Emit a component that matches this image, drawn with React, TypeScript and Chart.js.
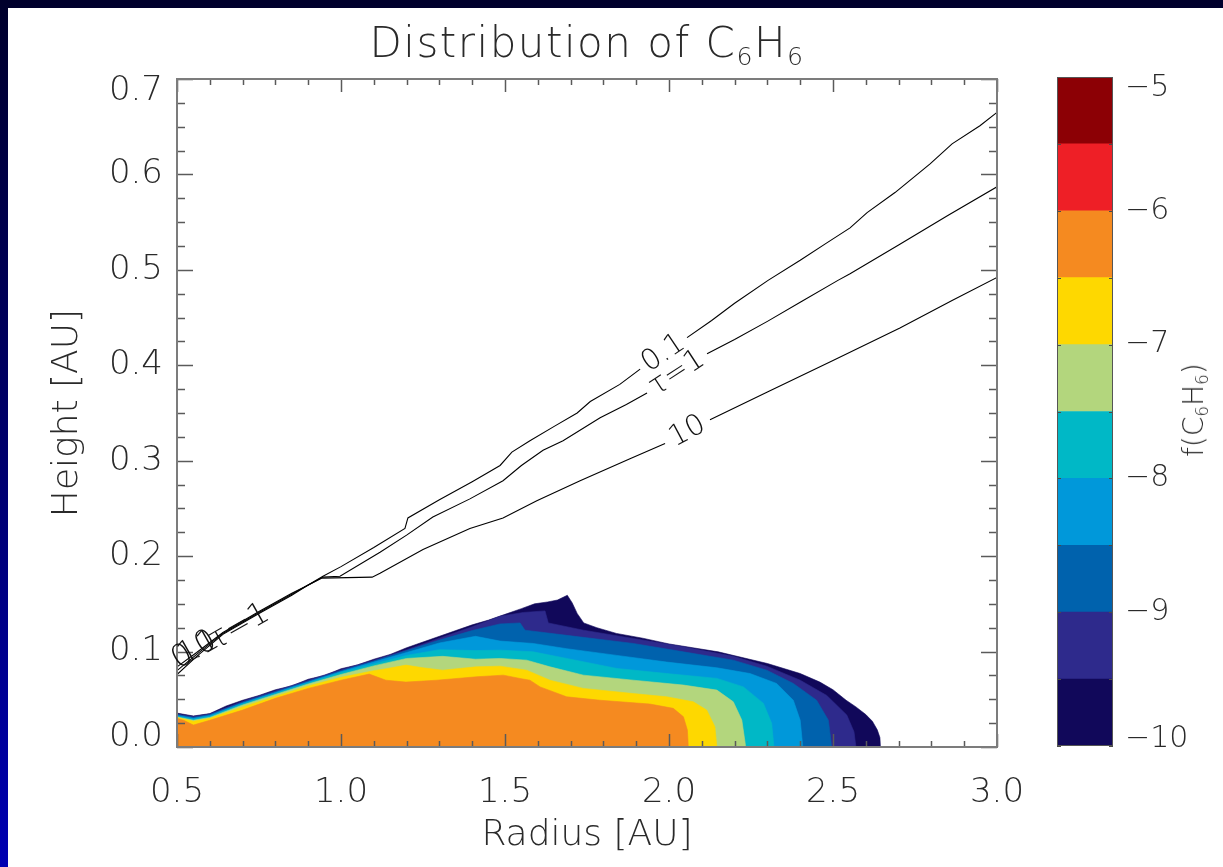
import React, { useEffect, useRef } from "react";
import { Chart, registerables } from "chart.js";

Chart.register(...registerables);

// ---------- text ----------
const FONT = "'DejaVu Sans', 'Liberation Sans', sans-serif";
const TEXT = "#2a2a2a";
const TITLE_MAIN = "Distribution of ";
const SPECIES = [["C", "6"], ["H", "6"]];
const X_TITLE = "Radius [AU]";
const Y_TITLE = "Height [AU]";

// ---------- ticks ----------
const X_TICKS = [0.5, 1.0, 1.5, 2.0, 2.5, 3.0];
const X_TICK_LABELS = ["0.5", "1.0", "1.5", "2.0", "2.5", "3.0"];
const Y_TICKS = [0, 0.1, 0.2, 0.3, 0.4, 0.5, 0.6, 0.7];
const Y_TICK_LABELS = ["0.0", "0.1", "0.2", "0.3", "0.4", "0.5", "0.6", "0.7"];
const CB_TICKS = [-10, -9, -8, -7, -6, -5];
const CB_TICK_LABELS = ["−10", "−9", "−8", "−7", "−6", "−5"];

// ---------- colour levels ----------
const LEVELS = [-10, -9.5, -9, -8.5, -8, -7.5, -7, -6.5, -6, -5.5, -5];
const LEVEL_COLORS = [
  "#11085a", "#2e2a8c", "#0062ad", "#0098da", "#00b8c6",
  "#b3d67d", "#fed800", "#f58a20", "#ee1f26", "#8c0005",
];

// ---------- filled contour boundaries (upper edge of region f > level) ----------
const BAND_X_M10 = [0.5, 0.55, 0.6, 0.65, 0.7, 0.75, 0.8, 0.85, 0.9, 0.95, 1.0, 1.05, 1.1, 1.15, 1.2, 1.25, 1.3, 1.35, 1.4, 1.45, 1.5, 1.55, 1.59, 1.63, 1.66, 1.69, 1.705, 1.72, 1.74, 1.78, 1.84, 1.92, 2.0, 2.15, 2.3, 2.4, 2.46, 2.5, 2.54, 2.57, 2.6, 2.62, 2.635, 2.643, 2.645];
const BAND_Y_M10 = [0.0355, 0.0325, 0.035, 0.043, 0.049, 0.054, 0.060, 0.064, 0.071, 0.075, 0.082, 0.086, 0.092, 0.097, 0.104, 0.110, 0.116, 0.122, 0.128, 0.133, 0.139, 0.145, 0.150, 0.152, 0.154, 0.159, 0.151, 0.140, 0.130, 0.125, 0.119, 0.114, 0.108, 0.0997, 0.0875, 0.077, 0.068, 0.060, 0.049, 0.042, 0.034, 0.027, 0.018, 0.010, 0];

const BAND_X_M95 = [0.5, 0.55, 0.6, 0.7, 0.8, 0.9, 1.0, 1.1, 1.2, 1.3, 1.4, 1.485, 1.556, 1.622, 1.632, 1.739, 1.891, 2.044, 2.196, 2.298, 2.40, 2.481, 2.542, 2.564, 2.570];
const BAND_Y_M95 = [0.0345, 0.032, 0.0345, 0.048, 0.059, 0.070, 0.081, 0.091, 0.102, 0.114, 0.126, 0.137, 0.141, 0.1426, 0.130, 0.1224, 0.1137, 0.105, 0.095, 0.0847, 0.070, 0.054, 0.0335, 0.016, 0];

const BAND_X_M9 = [0.5, 0.55, 0.6, 0.7, 0.8, 0.9, 1.0, 1.1, 1.2, 1.3, 1.4, 1.485, 1.546, 1.561, 1.688, 1.891, 2.044, 2.196, 2.298, 2.379, 2.45, 2.486, 2.496];
const BAND_Y_M9 = [0.034, 0.031, 0.034, 0.047, 0.058, 0.069, 0.080, 0.090, 0.101, 0.112, 0.122, 0.129, 0.130, 0.1224, 0.117, 0.1085, 0.0997, 0.091, 0.0805, 0.0666, 0.049, 0.028, 0];

const BAND_X_M85 = [0.5, 0.55, 0.6, 0.7, 0.8, 0.9, 1.0, 1.1, 1.2, 1.3, 1.41, 1.485, 1.586, 1.688, 1.841, 1.993, 2.146, 2.247, 2.328, 2.379, 2.40, 2.408];
const BAND_Y_M85 = [0.033, 0.030, 0.033, 0.046, 0.057, 0.068, 0.079, 0.089, 0.099, 0.109, 0.116, 0.111, 0.1085, 0.103, 0.096, 0.089, 0.083, 0.077, 0.0666, 0.049, 0.028, 0];

const BAND_X_M8 = [0.5, 0.55, 0.6, 0.7, 0.8, 0.9, 1.0, 1.1, 1.2, 1.3, 1.41, 1.485, 1.586, 1.688, 1.841, 1.993, 2.146, 2.227, 2.288, 2.313, 2.320];
const BAND_Y_M8 = [0.032, 0.029, 0.032, 0.045, 0.056, 0.067, 0.078, 0.087, 0.096, 0.102, 0.101, 0.1015, 0.0997, 0.0928, 0.0823, 0.077, 0.0719, 0.063, 0.0457, 0.0248, 0];

const BAND_X_M75 = [0.5, 0.55, 0.6, 0.7, 0.8, 0.9, 1.0, 1.1, 1.2, 1.31, 1.41, 1.485, 1.566, 1.637, 1.739, 1.891, 2.044, 2.146, 2.196, 2.222, 2.234];
const BAND_Y_M75 = [0.0315, 0.028, 0.031, 0.044, 0.055, 0.066, 0.076, 0.085, 0.0928, 0.095, 0.092, 0.0928, 0.091, 0.084, 0.0753, 0.070, 0.0649, 0.0596, 0.0474, 0.0282, 0];

const BAND_X_M7 = [0.5, 0.55, 0.6, 0.7, 0.8, 0.9, 1.0, 1.1, 1.137, 1.198, 1.25, 1.31, 1.411, 1.485, 1.566, 1.637, 1.739, 1.891, 1.993, 2.074, 2.115, 2.140, 2.146];
const BAND_Y_M7 = [0.031, 0.027, 0.030, 0.042, 0.053, 0.064, 0.073, 0.080, 0.082, 0.0858, 0.083, 0.0805, 0.084, 0.0847, 0.0805, 0.070, 0.0614, 0.056, 0.0526, 0.0474, 0.0387, 0.0212, 0];

const BAND_X_M65 = [0.5, 0.52, 0.55, 0.6, 0.7, 0.8, 0.9, 1.0, 1.086, 1.137, 1.198, 1.292, 1.414, 1.495, 1.546, 1.576, 1.607, 1.688, 1.79, 1.942, 2.013, 2.044, 2.056, 2.059];
const BAND_Y_M65 = [0.030, 0.028, 0.023, 0.028, 0.0387, 0.051, 0.0614, 0.070, 0.0764, 0.070, 0.068, 0.070, 0.0736, 0.0753, 0.0718, 0.070, 0.063, 0.0526, 0.049, 0.045, 0.0405, 0.0317, 0.0178, 0];

// ---------- optical depth contour lines (null = label gap) ----------
const TAU01_X = [0.5, 0.56, 0.64, 0.75, 0.85, 0.896, 0.945, 1.0, 1.1, 1.195, 1.204, 1.3, 1.4, 1.485, 1.521, 1.576, 1.65, 1.72, 1.76, 1.85, 1.912, 1.98, 2.055, 2.13, 2.2, 2.302, 2.40, 2.48, 2.552, 2.604, 2.689, 2.796, 2.863, 2.948, 3.0];
const TAU01_Y = [0.084, 0.099, 0.120, 0.142, 0.161, 0.169, 0.179, 0.189, 0.209, 0.229, 0.240, 0.259, 0.278, 0.295, 0.309, 0.321, 0.336, 0.350, 0.362, 0.380, 0.396, null, 0.429, 0.447, 0.465, 0.489, 0.510, 0.528, 0.544, 0.560, 0.581, 0.611, 0.632, 0.651, 0.665];

const TAU1_X = [0.5, 0.56, 0.64, 0.75, 0.85, 0.896, 0.945, 0.997, 1.119, 1.20, 1.28, 1.393, 1.494, 1.55, 1.616, 1.677, 1.79, 1.87, 1.933, 2.02, 2.116, 2.2, 2.3, 2.4, 2.515, 2.552, 2.7, 2.85, 3.0];
const TAU1_Y = [0.080, 0.097, 0.119, 0.141, 0.160, 0.169, 0.178, 0.179, 0.204, 0.222, 0.241, 0.260, 0.279, 0.295, 0.311, 0.321, 0.345, 0.359, 0.371, null, 0.412, 0.427, 0.446, 0.466, 0.489, 0.496, 0.526, 0.557, 0.587];

const TAU10_X = [0.5, 0.56, 0.64, 0.75, 0.85, 0.896, 0.942, 1.095, 1.119, 1.25, 1.393, 1.494, 1.597, 1.729, 1.881, 1.988, 2.06, 2.125, 2.3, 2.5, 2.704, 2.863, 3.0];
const TAU10_Y = [0.076, 0.095, 0.118, 0.140, 0.159, 0.169, 0.177, 0.178, 0.182, 0.207, 0.229, 0.240, 0.258, 0.279, 0.302, 0.318, null, 0.343, 0.372, 0.405, 0.439, 0.468, 0.492];

const LINE_LABELS = ["0.1", "τ=1", "10"];
// labels bunched where the contours meet the left edge
const LEFT_LABEL_TEXT = ["0.1", "10", "τ=1"];
const LEFT_LABEL_X = [0.556, 0.562, 0.69];
const LEFT_LABEL_Y = [0.1015, 0.1035, 0.1255];

// ---------- helpers ----------
const zip = (xs: number[], ys: (number | null)[]) => xs.map((x, i) => ({ x, y: ys[i] }));

const shiftedItems = new WeakSet<object>();
const endLabelShift = (id: string, scaleId: string, firstDy: number, lastDy: number) => ({
  id,
  beforeDraw(chart: any) {
    const s: any = chart.scales[scaleId];
    if (!s || typeof s.getLabelItems !== "function") return;
    const items = s.getLabelItems(chart.chartArea);
    if (!items || !items.length || shiftedItems.has(items)) return;
    shiftedItems.add(items);
    items[0].options.translation[1] += firstDy;
    items[items.length - 1].options.translation[1] += lastDy;
  },
});

const noScalePadding = (s: any) => {
  s.paddingLeft = 0;
  s.paddingRight = 0;
  s.paddingTop = 0;
  s.paddingBottom = 0;
};

const frameTicksPlugin = {
  id: "frameTicks",
  afterDatasetsDraw(chart: any) {
    const { ctx, chartArea: a } = chart;
    const xs = chart.scales.x;
    const ys = chart.scales.y;
    ctx.save();
    ctx.lineWidth = 1.5;
    ctx.strokeStyle = "#5a5a5a";
    const seg = (x1: number, y1: number, x2: number, y2: number) => {
      ctx.beginPath();
      ctx.moveTo(x1, y1);
      ctx.lineTo(x2, y2);
      ctx.stroke();
    };
    const xMinorStep = 0.1;
    for (let k = 0; ; k++) {
      const v = X_TICKS[0] + k * xMinorStep;
      if (v > X_TICKS[X_TICKS.length - 1] + 1e-9) break;
      const major = X_TICKS.some((t) => Math.abs(t - v) < 1e-6);
      const len = major ? 13 : 6;
      const p = Math.round(xs.getPixelForValue(v)) + 0.5;
      seg(p, a.bottom, p, a.bottom - len);
      seg(p, a.top, p, a.top + len);
    }
    const yMinorStep = 0.025;
    for (let k = 0; ; k++) {
      const v = Y_TICKS[0] + k * yMinorStep;
      if (v > Y_TICKS[Y_TICKS.length - 1] + 1e-9) break;
      const major = Y_TICKS.some((t) => Math.abs(t - v) < 1e-6);
      const len = major ? 16 : 8;
      const p = Math.round(ys.getPixelForValue(v)) + 0.5;
      seg(a.left, p, a.left + len, p);
      seg(a.right, p, a.right - len, p);
    }
    ctx.strokeStyle = "#7c7c7c";
    ctx.lineWidth = 2;
    ctx.strokeRect(a.left, a.top, a.right - a.left, a.bottom - a.top);
    ctx.restore();
  },
};

const contourLabelPlugin = {
  id: "contourLabels",
  afterDatasetsDraw(chart: any) {
    const { ctx } = chart;
    const xs = chart.scales.x;
    const ys = chart.scales.y;
    ctx.save();
    ctx.fillStyle = "#111";
    ctx.font = `200 29px ${FONT}`;
    ctx.textAlign = "center";
    ctx.textBaseline = "middle";
    const lines = [
      [TAU01_X, TAU01_Y],
      [TAU1_X, TAU1_Y],
      [TAU10_X, TAU10_Y],
    ] as [number[], (number | null)[]][];
    lines.forEach(([lx, ly], i) => {
      const g = ly.indexOf(null);
      if (g < 1) return;
      const x1 = xs.getPixelForValue(lx[g - 1]);
      const y1 = ys.getPixelForValue(ly[g - 1] as number);
      const x2 = xs.getPixelForValue(lx[g + 1]);
      const y2 = ys.getPixelForValue(ly[g + 1] as number);
      ctx.save();
      ctx.translate((x1 + x2) / 2, (y1 + y2) / 2);
      ctx.rotate(Math.atan2(y2 - y1, x2 - x1));
      ctx.fillText(LINE_LABELS[i], 0, 0);
      ctx.restore();
    });
    // left-edge labels follow the merged contour slope
    const ax = xs.getPixelForValue(TAU1_X[2]);
    const ay = ys.getPixelForValue(TAU1_Y[2] as number);
    const bx = xs.getPixelForValue(TAU1_X[5]);
    const by = ys.getPixelForValue(TAU1_Y[5] as number);
    const ang = Math.atan2(by - ay, bx - ax);
    ctx.font = `200 31px ${FONT}`;
    LEFT_LABEL_TEXT.forEach((t, i) => {
      ctx.save();
      ctx.translate(xs.getPixelForValue(LEFT_LABEL_X[i]), ys.getPixelForValue(LEFT_LABEL_Y[i]));
      ctx.rotate(ang);
      ctx.fillText(t, 0, 0);
      ctx.restore();
    });
    ctx.restore();
  },
};

const colorbarFramePlugin = {
  id: "cbFrame",
  afterDatasetsDraw(chart: any) {
    const { ctx, chartArea: a } = chart;
    const ys = chart.scales.y;
    ctx.save();
    ctx.strokeStyle = "#4a4a4a";
    ctx.lineWidth = 1.2;
    LEVELS.forEach((lv) => {
      const p = Math.round(ys.getPixelForValue(lv)) + 0.5;
      ctx.beginPath();
      ctx.moveTo(a.left, p);
      ctx.lineTo(a.left + 4, p);
      ctx.moveTo(a.right, p);
      ctx.lineTo(a.right - 4, p);
      ctx.stroke();
    });
    ctx.strokeStyle = "#555";
    ctx.lineWidth = 1;
    ctx.strokeRect(a.left + 0.5, a.top + 0.5, a.right - a.left - 1, a.bottom - a.top - 1);
    ctx.restore();
  },
};

function MainChart() {
  const ref = useRef<HTMLCanvasElement>(null);
  useEffect(() => {
    if (!ref.current) return;
    const bands = [
      { x: BAND_X_M65, y: BAND_Y_M65, c: LEVEL_COLORS[7] },
      { x: BAND_X_M7, y: BAND_Y_M7, c: LEVEL_COLORS[6] },
      { x: BAND_X_M75, y: BAND_Y_M75, c: LEVEL_COLORS[5] },
      { x: BAND_X_M8, y: BAND_Y_M8, c: LEVEL_COLORS[4] },
      { x: BAND_X_M85, y: BAND_Y_M85, c: LEVEL_COLORS[3] },
      { x: BAND_X_M9, y: BAND_Y_M9, c: LEVEL_COLORS[2] },
      { x: BAND_X_M95, y: BAND_Y_M95, c: LEVEL_COLORS[1] },
      { x: BAND_X_M10, y: BAND_Y_M10, c: LEVEL_COLORS[0] },
    ];
    const lines = [
      { x: TAU01_X, y: TAU01_Y },
      { x: TAU1_X, y: TAU1_Y },
      { x: TAU10_X, y: TAU10_Y },
    ];
    const datasets: any[] = [
      ...lines.map((l) => ({
        data: zip(l.x, l.y),
        showLine: true,
        borderColor: "#000",
        borderWidth: 1.1,
        pointRadius: 0,
        fill: false,
        spanGaps: false,
      })),
      ...bands.map((b) => ({
        data: zip(b.x, b.y),
        showLine: true,
        borderColor: b.c,
        borderWidth: 0.6,
        backgroundColor: b.c,
        pointRadius: 0,
        fill: "origin",
      })),
    ];
    const tickFont = { family: FONT, size: 34, weight: "200" as any };
    const titleFont = { family: FONT, size: 36, weight: "200" as any };
    const chart = new Chart(ref.current, {
      type: "scatter",
      data: { datasets },
      options: {
        responsive: false,
        animation: false,
        events: [],
        layout: { padding: { left: 36, right: 43, top: 71, bottom: 0 } },
        plugins: {
          legend: { display: false },
          tooltip: { enabled: false },
          title: { display: false },
        },
        scales: {
          x: {
            type: "linear",
            min: X_TICKS[0],
            max: X_TICKS[X_TICKS.length - 1],
            grid: { display: false, drawTicks: false },
            border: { display: false },
            afterBuildTicks: (s: any) => {
              s.ticks = X_TICKS.map((value) => ({ value }));
            },
            afterFit: (s: any) => {
              s.height = 120;
              noScalePadding(s);
            },
            ticks: {
              callback: (_v: any, i: number) => X_TICK_LABELS[i],
              color: TEXT,
              font: tickFont,
              padding: 26,
              maxRotation: 0,
              autoSkip: false,
            },
            title: { display: true, text: X_TITLE, color: TEXT, font: titleFont, padding: { top: 0, bottom: 10 } },
          },
          y: {
            type: "linear",
            min: Y_TICKS[0],
            max: Y_TICKS[Y_TICKS.length - 1],
            grid: { display: false, drawTicks: false },
            border: { display: false },
            afterBuildTicks: (s: any) => {
              s.ticks = Y_TICKS.map((value) => ({ value }));
            },
            afterFit: (s: any) => {
              s.width = 133;
              noScalePadding(s);
            },
            ticks: {
              callback: (_v: any, i: number) => Y_TICK_LABELS[i],
              color: TEXT,
              font: tickFont,
              padding: 14,
              autoSkip: false,
            },
            title: { display: true, text: Y_TITLE, color: TEXT, font: titleFont, padding: { top: 2, bottom: 0 } },
          },
        },
      } as any,
      plugins: [frameTicksPlugin, contourLabelPlugin, endLabelShift("mainEnds", "y", -10, 12)],
    });
    return () => chart.destroy();
  }, []);
  return (
    <canvas
      ref={ref}
      width={1032}
      height={859}
      style={{ position: "absolute", left: 8, top: 8, width: 1032, height: 859 }}
    />
  );
}

function ColorBar() {
  const ref = useRef<HTMLCanvasElement>(null);
  useEffect(() => {
    if (!ref.current) return;
    const chart = new Chart(ref.current, {
      type: "bar",
      data: {
        labels: [""],
        datasets: LEVEL_COLORS.map((c, i) => ({
          data: [[LEVELS[i], LEVELS[i + 1]]],
          backgroundColor: c,
          borderWidth: 0,
          grouped: false,
          barPercentage: 1,
          categoryPercentage: 1,
        })) as any,
      },
      options: {
        responsive: false,
        animation: false,
        events: [],
        layout: { padding: { left: 17, right: 27, top: 69, bottom: 121 } },
        plugins: { legend: { display: false }, tooltip: { enabled: false } },
        scales: {
          x: { display: false },
          y: {
            position: "right",
            min: LEVELS[0],
            max: LEVELS[LEVELS.length - 1],
            grid: { display: false, drawTicks: false },
            border: { display: false },
            afterBuildTicks: (s: any) => {
              s.ticks = CB_TICKS.map((value) => ({ value }));
            },
            afterFit: (s: any) => {
              s.width = 83;
              noScalePadding(s);
            },
            ticks: {
              callback: (_v: any, i: number) => CB_TICK_LABELS[i],
              color: TEXT,
              font: { family: FONT, size: 30, weight: "200" as any },
              padding: 12,
              autoSkip: false,
            },
          },
        },
      } as any,
      plugins: [colorbarFramePlugin, endLabelShift("cbEnds", "y", -7, 11)],
    });
    return () => chart.destroy();
  }, []);
  return (
    <canvas
      ref={ref}
      width={183}
      height={859}
      style={{ position: "absolute", left: 1040, top: 8, width: 183, height: 859 }}
    />
  );
}

const subStyle: React.CSSProperties = { fontSize: "0.6em", verticalAlign: "-0.32em", lineHeight: 0 };

function Species() {
  return (
    <>
      {SPECIES.map(([el, n], i) => (
        <React.Fragment key={i}>
          {el}
          <span style={subStyle}>{n}</span>
        </React.Fragment>
      ))}
    </>
  );
}

export default function App() {
  return (
    <div
      style={{
        position: "fixed",
        left: 0,
        top: 0,
        width: 1223,
        height: 867,
        overflow: "hidden",
        background: "linear-gradient(180deg, #00002c 0%, #000070 55%, #0000b2 100%)",
      }}
    >
      <div style={{ position: "absolute", left: 8, top: 8, right: 0, bottom: 0, background: "#ffffff" }} />
      <MainChart />
      <ColorBar />
      <div
        style={{
          position: "absolute",
          left: 587,
          top: 22,
          transform: "translateX(-50%)",
          fontFamily: FONT,
          fontWeight: 200,
          fontSize: 42,
          letterSpacing: 1.5,
          color: TEXT,
          whiteSpace: "nowrap",
          lineHeight: 1,
        }}
      >
        {TITLE_MAIN}
        <Species />
      </div>
      <div
        style={{
          position: "absolute",
          left: 1194,
          top: 410,
          transform: "translate(-50%, -50%) rotate(-90deg)",
          fontFamily: FONT,
          fontWeight: 200,
          fontSize: 28,
          color: TEXT,
          whiteSpace: "nowrap",
          lineHeight: 1,
        }}
      >
        f(<Species />)
      </div>
    </div>
  );
}
